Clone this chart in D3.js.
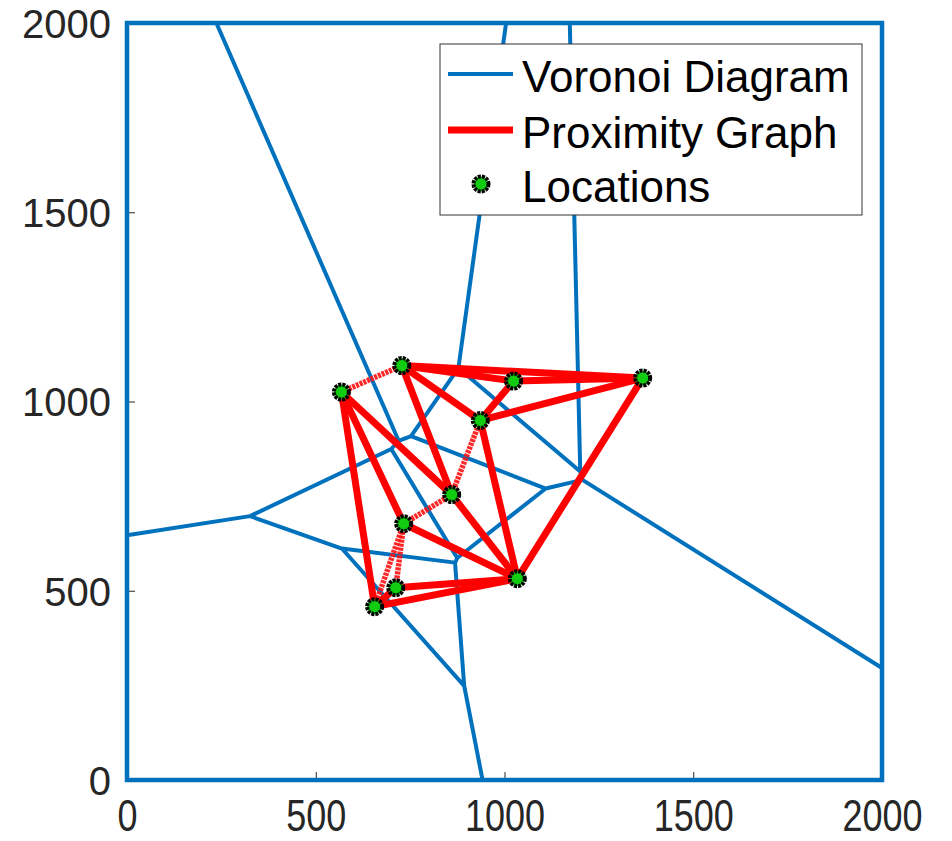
<!DOCTYPE html>
<html>
<head>
<meta charset="utf-8">
<script src="https://cdn.jsdelivr.net/npm/d3@7"></script>
<style>
  body { margin: 0; background: #fff; }
  svg { display: block; }
</style>
</head>
<body>
<script>
// Location coordinates (data units)
const locX = [568, 728, 1024, 1366, 936, 860, 733, 1034, 712, 656];
const locY = [1025, 1095, 1054, 1062, 950, 754, 677, 532, 508, 458];
// Proximity graph edges (index pairs)
const edgesSolid = [[1,3],[1,2],[2,3],[2,4],[4,3],[1,4],[1,5],[0,5],[0,9],[0,6],[4,7],[5,7],[6,7],[8,7],[9,7],[3,7],[9,8]];
const edgesFaint = [[0,1],[4,5],[5,6],[6,8],[6,9]];
// Axis ticks
const tickValues = [0, 500, 1000, 1500, 2000];
const legendLabels = ["Voronoi Diagram", "Proximity Graph", "Locations"];

const W = 952, H = 841;
const svg = d3.select("body").append("svg").attr("width", W).attr("height", H);

const x = d3.scaleLinear().domain([0, 2000]).range([127, 882]);
const y = d3.scaleLinear().domain([0, 2000]).range([780, 23]);

const blue = "#0072BD";
const font = "Liberation Sans, Arial, Helvetica, sans-serif";

// tick marks (inward)
const axG = svg.append("g");
const xAxis = d3.axisBottom(x).tickValues(tickValues).tickSize(-8).tickFormat(d3.format("d"));
const yAxis = d3.axisLeft(y).tickValues(tickValues).tickSize(-8).tickPadding(16).tickFormat(d3.format("d"));
const gx = axG.append("g").attr("transform", `translate(0,${y(0)})`).call(xAxis);
const gy = axG.append("g").attr("transform", `translate(${x(0)},0)`).call(yAxis);
[gx, gy].forEach(g => {
  g.select(".domain").remove();
  g.selectAll(".tick line").attr("stroke", "#262626").attr("stroke-width", 1);
  g.selectAll(".tick text").attr("fill", "#262626").attr("font-family", font);
});
gx.selectAll(".tick text").attr("font-size", 36).attr("y", 0).attr("dy", 0)
  .attr("transform", "translate(0,51) scale(1,1.22)");
gy.selectAll(".tick text").attr("font-size", 40).attr("dy", "0.36em").attr("dx", 0);

// Voronoi
const pts = locX.map((v, i) => [v, locY[i]]);
const delaunay = d3.Delaunay.from(pts);
const vor = delaunay.voronoi([0, 0, 2000, 2000]);
const p = d3.path();
const ctx = {
  moveTo: (a, b) => p.moveTo(x(a), y(b)),
  lineTo: (a, b) => p.lineTo(x(a), y(b)),
  closePath: () => p.closePath()
};
vor.render(ctx);
svg.append("path").attr("d", p.toString()).attr("fill", "none")
  .attr("stroke", blue).attr("stroke-width", 4).attr("stroke-linejoin", "round");

// frame
svg.append("rect").attr("x", x(0)).attr("y", y(2000))
  .attr("width", x(2000) - x(0)).attr("height", y(0) - y(2000))
  .attr("fill", "none").attr("stroke", blue).attr("stroke-width", 4.5);

// proximity graph
const eg = svg.append("g");
eg.selectAll("line.faint").data(edgesFaint).join("line").attr("class", "faint")
  .attr("x1", d => x(locX[d[0]])).attr("y1", d => y(locY[d[0]]))
  .attr("x2", d => x(locX[d[1]])).attr("y2", d => y(locY[d[1]]))
  .attr("stroke", "#ff1010").attr("stroke-width", 5.5).attr("stroke-opacity", 0.9)
  .attr("stroke-dasharray", "3,1");
eg.selectAll("line.solid").data(edgesSolid).join("line").attr("class", "solid")
  .attr("x1", d => x(locX[d[0]])).attr("y1", d => y(locY[d[0]]))
  .attr("x2", d => x(locX[d[1]])).attr("y2", d => y(locY[d[1]]))
  .attr("stroke", "#ff0000").attr("stroke-width", 7).attr("stroke-linecap", "round");

// locations
svg.append("g").selectAll("circle").data(pts).join("circle")
  .attr("cx", d => x(d[0])).attr("cy", d => y(d[1])).attr("r", 7.5)
  .attr("fill", "#11cc11").attr("stroke", "#000").attr("stroke-width", 4)
  .attr("stroke-dasharray", "3,1");

// legend
const lg = svg.append("g");
lg.append("rect").attr("x", 440).attr("y", 44).attr("width", 422).attr("height", 171)
  .attr("fill", "#fff").attr("stroke", "#333").attr("stroke-width", 1);
const rowY = [74, 130, 184];
lg.append("line").attr("x1", 448).attr("x2", 513).attr("y1", rowY[0]).attr("y2", rowY[0])
  .attr("stroke", blue).attr("stroke-width", 4);
lg.append("line").attr("x1", 448).attr("x2", 513).attr("y1", rowY[1]).attr("y2", rowY[1])
  .attr("stroke", "#ff0000").attr("stroke-width", 7);
lg.append("circle").attr("cx", 481).attr("cy", rowY[2]).attr("r", 7.5)
  .attr("fill", "#11cc11").attr("stroke", "#000").attr("stroke-width", 4).attr("stroke-dasharray", "3,1");
lg.selectAll("text").data(legendLabels).join("text")
  .attr("x", 522).attr("y", (d, i) => rowY[i]).attr("dy", "0.4em")
  .attr("font-family", font).attr("font-size", 44).attr("fill", "#000").text(d => d);
</script>
</body>
</html>
